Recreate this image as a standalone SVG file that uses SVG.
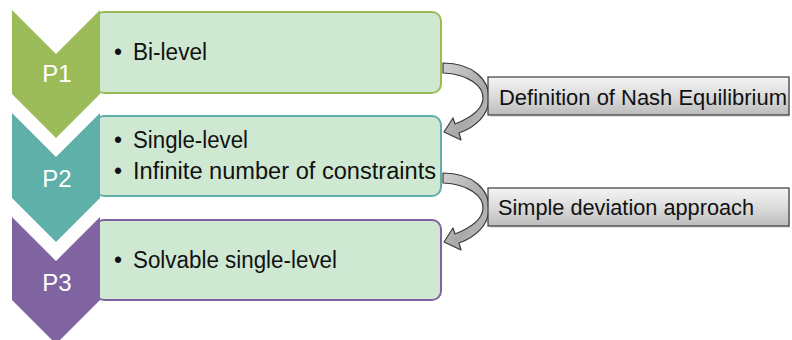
<svg xmlns="http://www.w3.org/2000/svg" width="792" height="340" viewBox="0 0 792 340">
<defs>
<linearGradient id="gbox" x1="0" y1="0" x2="0" y2="1">
<stop offset="0" stop-color="#f4f4f4"/>
<stop offset="0.5" stop-color="#dcdcdc"/>
<stop offset="1" stop-color="#bcbcbc"/>
</linearGradient>
<linearGradient id="garr" x1="0" y1="0" x2="1" y2="1">
<stop offset="0" stop-color="#d0d0d0"/>
<stop offset="0.6" stop-color="#a8a8a8"/>
<stop offset="1" stop-color="#c8c8c8"/>
</linearGradient>
<path id="carrow" d="M 443,63 C 473,63 490,80 489,100 C 488,115 476,127 459,133 L 461,140 L 444,132 L 453,118 L 455,124 C 470,118 482,110 483,99 C 484,86 468,74 443,73 Z"/>
</defs>
<style>
.box{fill:#cfe8d2;stroke-width:2}
.chev{stroke:none}
.pl{font-family:"Liberation Sans",Arial,sans-serif;font-size:24px;fill:#ffffff;text-anchor:middle}
.it{font-family:"Liberation Sans",Arial,sans-serif;font-size:23px;fill:#111111}
.bu{font-family:"Liberation Sans",Arial,sans-serif;font-size:23px;fill:#111111}
.cb{fill:url(#gbox);stroke:#3a3a3a;stroke-width:1.2}
.ct{font-family:"Liberation Sans",Arial,sans-serif;font-size:22px;fill:#111111}
.ar{fill:url(#garr);stroke:#3a3a3a;stroke-width:1.2;stroke-linejoin:round}
</style>
<rect width="792" height="340" fill="#ffffff"/>

<g id="p1">
<rect class="box" x="95" y="12" width="346" height="81" rx="9" stroke="#9bbb59"/>
<polygon class="chev" fill="#9bbb59" points="12,10 56,54 100,10 100,94 56,138 12,94"/>
<text class="pl" x="57" y="82">P1</text>
<text class="bu" x="114" y="60">•</text>
<text class="it" x="133" y="60" textLength="74" lengthAdjust="spacingAndGlyphs">Bi-level</text>
</g>

<g id="p2">
<rect class="box" x="95" y="116" width="346" height="80" rx="9" stroke="#5eb0a8"/>
<polygon class="chev" fill="#5eb0a8" points="12,113 56,157 100,113 100,198 56,242 12,198"/>
<text class="pl" x="57" y="187">P2</text>
<text class="bu" x="114" y="148">•</text>
<text class="it" x="133" y="148" textLength="115" lengthAdjust="spacingAndGlyphs">Single-level</text>
<text class="bu" x="114" y="179">•</text>
<text class="it" x="133" y="179" textLength="303" lengthAdjust="spacingAndGlyphs">Infinite number of constraints</text>
</g>

<g id="p3">
<rect class="box" x="95" y="220" width="346" height="80" rx="9" stroke="#8064a2"/>
<polygon class="chev" fill="#8064a2" points="12,217 56,261 100,217 100,300 56,344 12,300"/>
<text class="pl" x="57" y="291">P3</text>
<text class="bu" x="114" y="268">•</text>
<text class="it" x="133" y="268" textLength="204" lengthAdjust="spacingAndGlyphs">Solvable single-level</text>
</g>

<g id="connectors">
<use href="#carrow" class="ar"/>
<use href="#carrow" class="ar" transform="translate(0,110)"/>
</g>

<g id="label1">
<rect x="490" y="79" width="300" height="38" fill="#000000" opacity="0.12"/>
<rect class="cb" x="488" y="77" width="301" height="38"/>
<text class="ct" x="499" y="105" textLength="288" lengthAdjust="spacingAndGlyphs">Definition of Nash Equilibrium</text>
</g>

<g id="label2">
<rect x="490" y="190" width="300" height="38" fill="#000000" opacity="0.12"/>
<rect class="cb" x="488" y="188" width="301" height="38"/>
<text class="ct" x="498" y="215" textLength="256" lengthAdjust="spacingAndGlyphs">Simple deviation approach</text>
</g>
</svg>
